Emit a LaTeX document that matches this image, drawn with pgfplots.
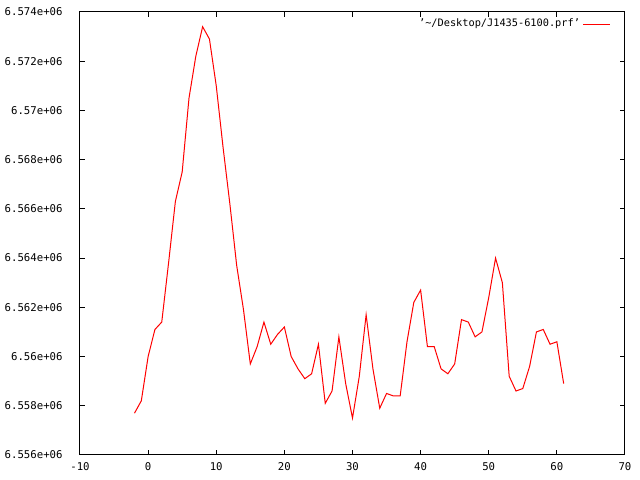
\documentclass[border=0pt]{standalone}
\usepackage{pgfplots}
\pgfplotsset{compat=1.18}
\usepackage{fontspec}
\setmainfont{DejaVu Sans Mono}
\begin{document}
\begin{tikzpicture}
\useasboundingbox (-57.6pt,-18pt) rectangle (403.2pt,327.6pt);
\begin{axis}[
  at={(0,0)}, anchor=south west,
  scale only axis,
  width=392.4pt, height=319pt,
  xmin=-10, xmax=70, ymin=6556000, ymax=6574000,
  xtick={-10,0,10,20,30,40,50,60,70},
  xticklabels={-10,0,10,20,30,40,50,60,70},
  ytick={6556000,6558000,6560000,6562000,6564000,6566000,6568000,6570000,6572000,6574000},
  yticklabels={6.556e+06,6.558e+06,6.56e+06,6.562e+06,6.564e+06,6.566e+06,6.568e+06,6.57e+06,6.572e+06,6.574e+06},
  scaled y ticks=false,
  tick align=inside,
  major tick length=3.3pt,
  tick style={black, line width=0.72pt},
  axis line style={black, line width=0.72pt},
  every tick label/.append style={font=\fontsize{7.7}{9}\selectfont},
  yticklabel style={xshift=-9pt},
  xticklabel style={yshift=-2pt},
  legend style={at={(1,1)}, anchor=north east, draw=none, fill=none,
    xshift=-7pt, yshift=-1pt, font=\fontsize{7.4}{9}\selectfont},
  legend plot pos=right,
  legend cell align=right,
  legend image code/.code={\draw[#1] (0pt,0pt) -- (19.5pt,0pt);},
]
\addplot[red, line width=0.72pt, mark=none] table {
x y
-2 6557700
-1 6558200
0 6560000
1 6561100
2 6561400
3 6563800
4 6566300
5 6567500
6 6570500
7 6572200
8 6573400
9 6572900
10 6571000
11 6568500
12 6566200
13 6563700
14 6561900
15 6559700
16 6560400
17 6561400
18 6560500
19 6560900
20 6561200
21 6560000
22 6559500
23 6559100
24 6559300
25 6560500
26 6558100
27 6558600
28 6560800
29 6558900
30 6557500
31 6559200
32 6561700
33 6559500
34 6557900
35 6558500
36 6558400
37 6558400
38 6560600
39 6562200
40 6562700
41 6560400
42 6560400
43 6559500
44 6559300
45 6559700
46 6561500
47 6561400
48 6560800
49 6561000
50 6562400
51 6564000
52 6563000
53 6559200
54 6558600
55 6558700
56 6559600
57 6561000
58 6561100
59 6560500
60 6560600
61 6558900
};
\addlegendentry{’\textasciitilde/Desktop/J1435-6100.prf’}
\end{axis}
\end{tikzpicture}
\end{document}
